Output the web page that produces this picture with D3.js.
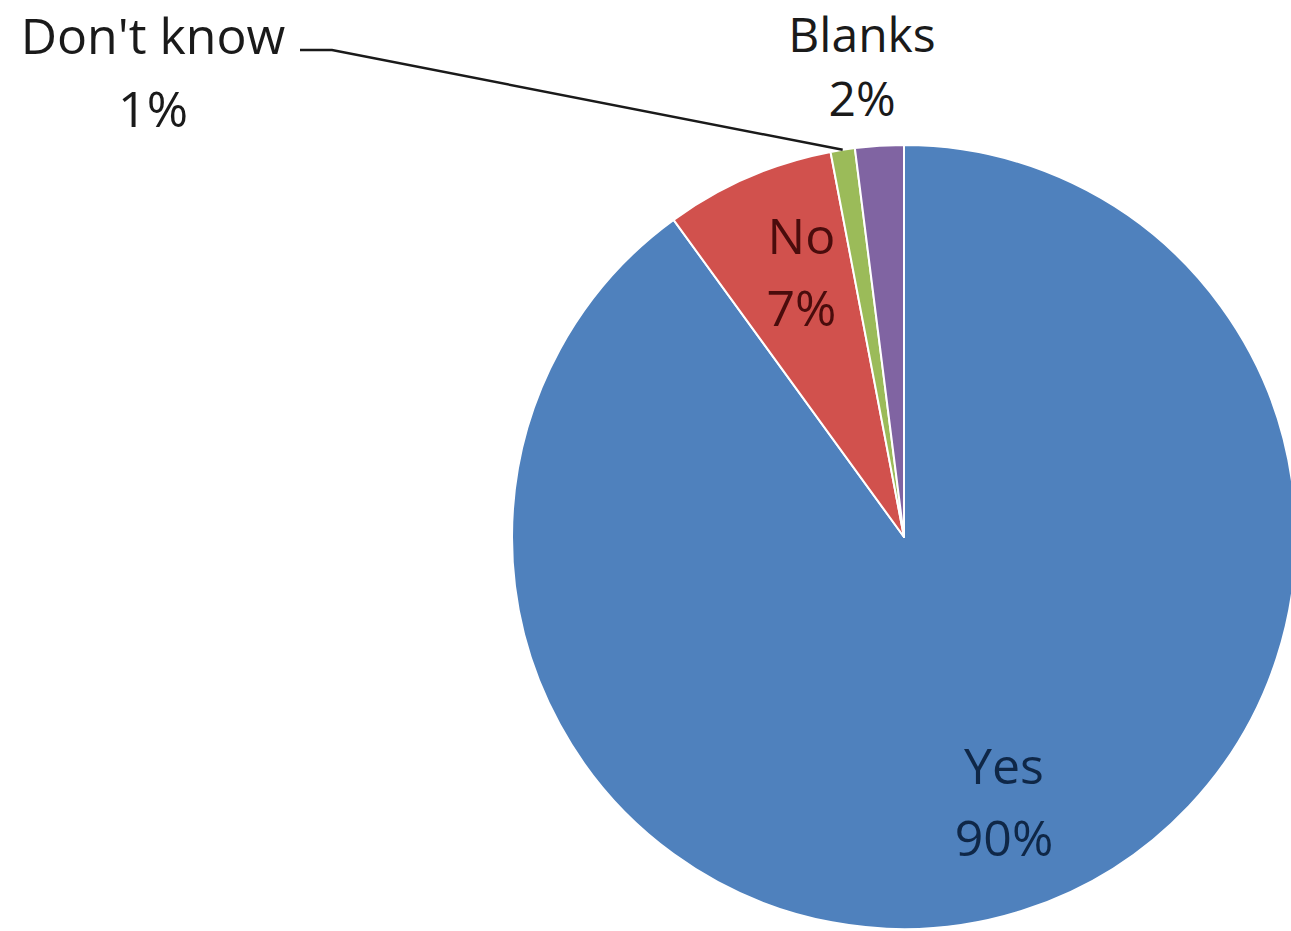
<!DOCTYPE html>
<html>
<head>
<meta charset="utf-8">
<script src="https://cdn.jsdelivr.net/npm/d3@7"></script>
<style>
  html, body { margin: 0; padding: 0; background: #ffffff; overflow: hidden; }
  svg { display: block; }
  text { font-family: "Open Sans", "Liberation Sans", sans-serif; }
</style>
</head>
<body>
<svg id="chart" width="1291" height="931"></svg>
<script>
// Survey answers, drawn clockwise from twelve o'clock
const categories = ["Yes", "No", "Don't know", "Blanks"];
const values = [90, 7, 1, 2];
const valueLabels = ["90%", "7%", "1%", "2%"];
const colors = ["#4f81bd", "#d1514d", "#9bbb59", "#8064a2"];

const svg = d3.select("#chart");
const cx = 904, cy = 537, r = 392;

const data = categories.map((c, i) => ({ name: c, value: values[i], label: valueLabels[i], color: colors[i] }));

const pie = d3.pie().sort(null).value(d => d.value);
const arcs = pie(data);
const arc = d3.arc().innerRadius(0).outerRadius(r);
const labelArc = d3.arc().innerRadius(r * 0.71).outerRadius(r * 0.71);

const g = svg.append("g").attr("transform", `translate(${cx},${cy})`);

g.selectAll("path.slice")
  .data(arcs)
  .join("path")
  .attr("class", "slice")
  .attr("d", arc)
  .attr("fill", d => d.data.color)
  .attr("stroke", "#ffffff")
  .attr("stroke-width", 2)
  .attr("stroke-linejoin", "round");

const fontSize = 50;
const lineGap = 72;

// Labels inside the two large slices
const inside = arcs.filter(d => d.data.name === "Yes" || d.data.name === "No");
const insideColor = { "Yes": "#0f2747", "No": "#4a0c0c" };
const insideShift = { "Yes": [14, 0], "No": [8, -10] };
inside.forEach(d => {
  const [x, y] = labelArc.centroid(d);
  const [sx, sy] = insideShift[d.data.name];
  const t = g.append("text")
    .attr("text-anchor", "middle")
    .attr("font-size", fontSize)
    .attr("fill", insideColor[d.data.name]);
  t.append("tspan").attr("x", x + sx).attr("y", y + sy - 18).text(d.data.name);
  t.append("tspan").attr("x", x + sx).attr("y", y + sy - 18 + lineGap).text(d.data.label);
});

// Labels outside the two thin slices
const outsideLayout = {
  "Don't know": { x: 153, y: 54, gap: 73, size: 50 },
  "Blanks": { x: 862, y: 52, gap: 64, size: 48 }
};
arcs.filter(d => outsideLayout[d.data.name]).forEach(d => {
  const p = outsideLayout[d.data.name];
  const t = g.append("text")
    .attr("text-anchor", "middle")
    .attr("font-size", p.size)
    .attr("fill", "#1a1a1a");
  t.append("tspan").attr("x", p.x - cx).attr("y", p.y - cy).text(d.data.name);
  t.append("tspan").attr("x", p.x - cx).attr("y", p.y - cy + p.gap).text(d.data.label);
});

// Leader line from the "Don't know" label to its slice
const dk = arcs.find(d => d.data.name === "Don't know");
const mid = (dk.startAngle + dk.endAngle) / 2;
const edge = [Math.sin(mid) * r, -Math.cos(mid) * r];
const lineY = 50 - cy;
g.append("path")
  .attr("d", d3.line()([[300 - cx, lineY], [332 - cx, lineY], edge]))
  .attr("fill", "none")
  .attr("stroke", "#1a1a1a")
  .attr("stroke-width", 2.5);
</script>
</body>
</html>
